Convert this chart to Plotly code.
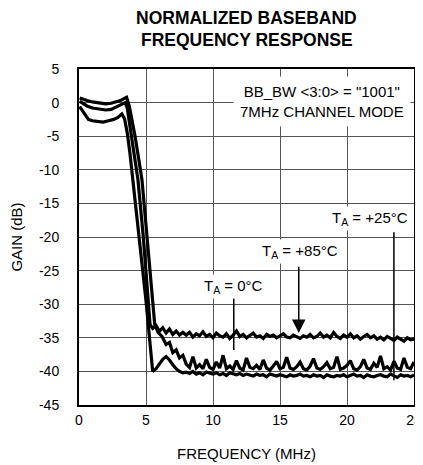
import plotly.graph_objects as go

# ---------------- data ----------------
FLOOR_F = [8.0, 8.25, 8.5, 8.75, 9.0, 9.25, 9.5, 9.75, 10.0, 10.25,
           10.5, 10.75, 11.0, 11.25, 11.5, 11.75, 12.0, 12.25, 12.5, 12.75,
           13.0, 13.25, 13.5, 13.75, 14.0, 14.25, 14.5, 14.75, 15.0, 15.25,
           15.5, 15.75, 16.0, 16.25, 16.5, 16.75, 17.0, 17.25, 17.5, 17.75,
           18.0, 18.25, 18.5, 18.75, 19.0, 19.25, 19.5, 19.75, 20.0, 20.25,
           20.5, 20.75, 21.0, 21.25, 21.5, 21.75, 22.0, 22.25, 22.5, 22.75,
           23.0, 23.25, 23.5, 23.75, 24.0, 24.25, 24.5, 24.75, 25.0]

# T_A = +25C
T25_HEAD_F = [0.05, 0.3, 0.5, 0.7, 1.0, 1.4, 1.8, 2.2, 2.6, 2.9, 3.2, 3.4, 3.6, 3.8, 4.0,
              4.5, 5.0, 5.25, 5.5, 5.75, 6.0, 6.25, 6.5, 6.75, 7.0, 7.25, 7.5, 7.75]
T25_HEAD_G = [-0.6, -1.3, -2.0, -2.5, -2.7, -2.8, -2.9, -2.7, -2.5, -2.2, -1.7, -2.4, -4.5, -7.5, -11.0,
              -20.5, -29.5, -34.8, -40.0, -39.6, -38.9, -38.2, -37.8, -38.3, -39.0, -39.6, -40.0, -40.2]
T25_FLOOR_G = [-40.1, -40.3, -40.0, -40.4, -40.2, -40.5, -40.1, -40.3, -40.4, -40.2,
               -40.5, -40.3, -40.6, -40.2, -40.4, -40.5, -40.3, -40.6, -40.4, -40.5,
               -40.7, -40.4, -40.6, -40.5, -40.8, -40.4, -40.6, -40.7, -40.5, -40.6,
               -40.8, -40.5, -40.7, -40.6, -40.4, -40.7, -40.6, -40.8, -40.5, -40.7,
               -40.6, -40.9, -40.5, -40.7, -40.8, -40.6, -40.7, -40.5, -40.8, -40.6,
               -40.4, -40.7, -40.6, -40.9, -40.5, -40.7, -40.8, -40.6, -40.5, -40.7,
               -40.8, -40.4, -40.6, -40.9, -40.5, -40.7, -40.6, -40.8, -40.5]

# T_A = +85C
T85_HEAD_F = [0.05, 0.3, 0.6, 1.0, 1.5, 2.0, 2.4, 2.8, 3.1, 3.45, 3.6, 3.8, 4.0, 4.2, 4.4,
              4.8, 5.1, 5.3, 5.5, 5.75, 6.0, 6.25, 6.5, 6.75, 7.0, 7.25, 7.5, 7.75]
T85_HEAD_G = [0.2, -0.1, -0.5, -0.8, -1.0, -1.1, -1.0, -0.6, -0.3, 0.0, -0.8, -3.3, -6.0, -8.8, -11.5,
              -20.0, -27.5, -33.0, -33.6, -33.2, -34.0, -33.5, -34.3, -33.7, -34.5, -34.0, -34.6, -34.2]
T85_FLOOR_G = [-34.6, -34.2, -34.9, -34.4, -34.7, -34.1, -34.8, -34.5, -35.0, -34.3,
               -34.7, -34.9, -34.4, -35.1, -34.6, -34.0, -34.8, -34.5, -35.0, -34.6,
               -34.3, -34.9, -34.7, -35.1, -34.5, -34.8, -34.6, -35.0, -34.7, -34.4,
               -34.9, -35.0, -34.6, -34.8, -35.1, -34.7, -34.9, -34.5, -35.0, -34.8,
               -34.3, -34.9, -34.6, -35.0, -34.2, -34.8, -35.1, -34.6, -34.9, -34.4,
               -35.0, -34.7, -35.2, -34.8, -34.5, -35.0, -34.7, -35.2, -34.9, -35.3,
               -34.8, -35.1, -35.4, -34.9, -35.2, -35.5, -35.0, -35.3, -35.2]

# T_A = 0C
T0_HEAD_F = [0.05, 0.3, 0.6, 1.0, 1.5, 2.0, 2.4, 2.8, 3.1, 3.35, 3.55, 3.75, 4.0, 4.2, 4.45,
             4.7, 5.1, 5.5, 5.65, 5.9, 6.2, 6.5, 6.75, 7.0, 7.25, 7.5, 7.75]
T0_HEAD_G = [0.7, 0.5, 0.3, 0.1, -0.1, -0.2, -0.1, 0.1, 0.3, 0.6, 0.8, -0.5, -2.8, -5.2, -8.3,
             -11.5, -20.5, -29.5, -33.0, -34.2, -34.8, -36.0, -35.7, -37.2, -36.8, -38.0, -37.6]
T0_FLOOR_G = [-38.9, -39.4, -37.8, -39.5, -39.0, -39.6, -38.2, -39.4, -39.7, -38.6,
              -39.5, -37.6, -39.6, -39.2, -39.7, -38.4, -39.5, -39.8, -38.0, -39.4,
              -39.6, -39.1, -39.7, -38.3, -39.5, -39.8, -39.2, -38.5, -39.6, -39.4,
              -37.9, -39.5, -39.7, -39.3, -38.6, -39.6, -39.8, -39.2, -38.1, -39.5,
              -39.7, -39.3, -38.7, -39.6, -39.4, -37.8, -39.7, -39.5, -39.1, -38.4,
              -39.6, -39.8, -39.3, -38.2, -39.5, -39.7, -38.8, -39.4, -37.7, -39.6,
              -39.3, -39.8, -38.5, -39.5, -39.7, -38.0, -39.4, -39.6, -38.6]

X_TICKS = [0, 5, 10, 15, 20, 25]
Y_TICKS = [5, 0, -5, -10, -15, -20, -25, -30, -35, -40, -45]

FONT = "Liberation Sans, Arial, sans-serif"

# the page body adds an 8px offset; plot area is placed so it lands at 79..414 x 69..405 on screen
OFF = 8
PLOT_LEFT, PLOT_RIGHT = 79 - OFF, 414 - OFF
PLOT_TOP, PLOT_BOTTOM = 69 - OFF, 405 - OFF
PLOT_H = PLOT_BOTTOM - PLOT_TOP

fig = go.Figure()
for hf, hg, fg in [(T25_HEAD_F, T25_HEAD_G, T25_FLOOR_G),
                   (T0_HEAD_F, T0_HEAD_G, T0_FLOOR_G),
                   (T85_HEAD_F, T85_HEAD_G, T85_FLOOR_G)]:
    fig.add_trace(go.Scatter(x=hf + FLOOR_F, y=hg + fg, mode="lines",
                             line=dict(color="black", width=3.2),
                             showlegend=False, hoverinfo="skip"))

fig.update_layout(
    width=423, height=465,
    margin=dict(l=PLOT_LEFT, r=423 - PLOT_RIGHT, t=PLOT_TOP, b=465 - PLOT_BOTTOM, autoexpand=False),
    paper_bgcolor="white", plot_bgcolor="white",
    font=dict(family=FONT, size=14, color="black"),
    showlegend=False,
)
fig.update_xaxes(range=[0, 25], tickvals=X_TICKS, ticktext=[str(v) for v in X_TICKS],
                 showgrid=True, gridcolor="#555555", gridwidth=1,
                 showline=True, linecolor="black", linewidth=2, mirror=True,
                 zeroline=False, ticks="", ticklabelstandoff=1, automargin=False,
                 title=dict(text="FREQUENCY (MHz)", font=dict(size=15), standoff=22))
fig.update_yaxes(range=[-45, 5], tickvals=Y_TICKS, ticktext=[str(v) for v in Y_TICKS],
                 showgrid=True, gridcolor="#555555", gridwidth=1,
                 showline=True, linecolor="black", linewidth=2, mirror=True,
                 zeroline=False, ticks="", ticklabelstandoff=15, automargin=False,
                 title=dict(text="GAIN (dB)", font=dict(size=15), standoff=18))

# title lines
fig.add_annotation(text="<b>NORMALIZED BASEBAND</b>", xref="paper", yref="paper",
                   x=0.5, y=(PLOT_BOTTOM - (17.5 - OFF)) / PLOT_H, showarrow=False,
                   font=dict(size=17.5), yanchor="middle")
fig.add_annotation(text="<b>FREQUENCY RESPONSE</b>", xref="paper", yref="paper",
                   x=0.5, y=(PLOT_BOTTOM - (40.5 - OFF)) / PLOT_H, showarrow=False,
                   font=dict(size=17.5), yanchor="middle")

# condition box
fig.add_annotation(text='BB_BW <3:0> = "1001"<br>7MHz CHANNEL MODE', x=18.1, y=0.2,
                   showarrow=False, bgcolor="white", borderpad=6, font=dict(size=15))

# temperature labels
fig.add_annotation(text="T<sub>A</sub> = +25°C", x=21.7, y=-17.3, showarrow=False,
                   bgcolor="white", borderpad=2, font=dict(size=15))
fig.add_annotation(text="T<sub>A</sub> = +85°C", x=16.5, y=-22.2, showarrow=False,
                   bgcolor="white", borderpad=2, font=dict(size=15))
fig.add_annotation(text="T<sub>A</sub> = 0°C", x=11.5, y=-27.3, showarrow=False,
                   bgcolor="white", borderpad=2, font=dict(size=15))

# pointer lines
fig.add_shape(type="line", x0=23.5, x1=23.5, y0=-19.3, y1=-41.3, line=dict(color="black", width=1.5))
fig.add_shape(type="line", x0=11.55, x1=11.55, y0=-29.1, y1=-36.8, line=dict(color="black", width=1.5))
fig.add_annotation(x=16.4, y=-34.3, ax=16.4, ay=-24.2, axref="x", ayref="y", text="",
                   showarrow=True, arrowhead=2, arrowsize=1.8, arrowwidth=1.5, arrowcolor="black")

fig.write_html("out.html")
